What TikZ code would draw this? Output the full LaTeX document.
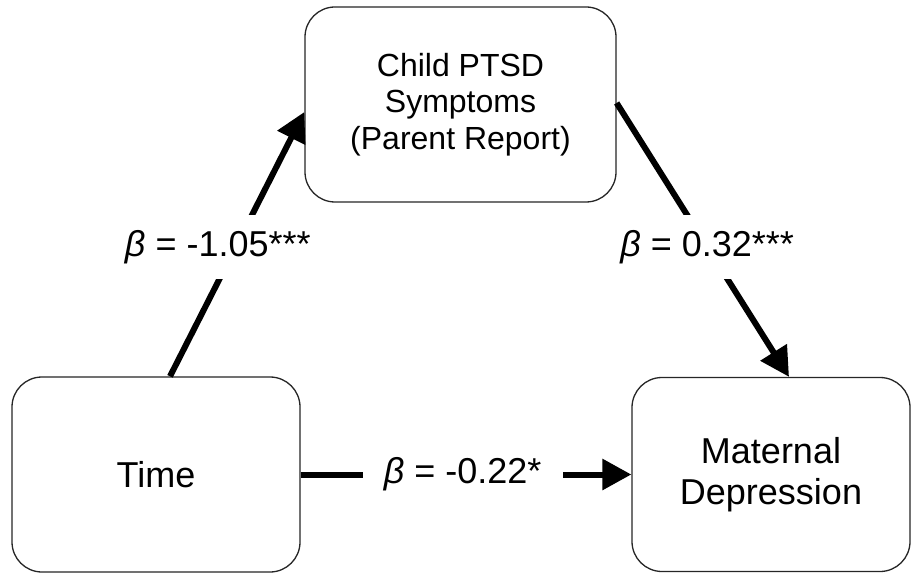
\documentclass[tikz,border=0pt]{standalone}
\usepackage{fontspec}
\setmainfont{Liberation Sans}
\usetikzlibrary{arrows.meta}
\begin{document}
\begin{tikzpicture}[x=1pt,y=1pt,
  box/.style={draw=black!85, line width=1.3pt, rounded corners=30pt, fill=white, align=center, inner sep=0pt},
  bigtext/.style={font=\fontsize{36}{41}\selectfont},
  conn/.style={line width=6pt, -{Triangle[length=29pt,width=30pt]}},
  lbl/.style={fill=white, inner xsep=21pt, inner ysep=15pt, font=\fontsize{36}{41}\selectfont}]
\useasboundingbox (0,0) rectangle (912,573);
\node[box, minimum width=311pt, minimum height=195pt, font=\fontsize{32}{36.5}\selectfont] (ptsd) at (460.5,468.5) {Child PTSD\\Symptoms\\(Parent Report)};
\node[box, bigtext, minimum width=288pt, minimum height=195pt] (time) at (156,98.5) {Time};
\node[box, bigtext, minimum width=278pt, minimum height=194pt] (mat) at (771,98.5) {Maternal\\Depression};
\draw[conn] ([xshift=14pt]time.north) -- ([yshift=-7.5pt]ptsd.west)
  node[lbl, pos=0.49, xshift=-18pt] {{\itshape β} = -1.05***};
\draw[conn] ([yshift=1.5pt]ptsd.east) -- ([xshift=18pt]mat.north)
  node[lbl, pos=0.525] {{\itshape β} = 0.32***};
\draw[conn] (time.east) -- (mat.west)
  node[lbl, pos=0.49] {{\itshape β} = -0.22*};
\end{tikzpicture}
\end{document}
